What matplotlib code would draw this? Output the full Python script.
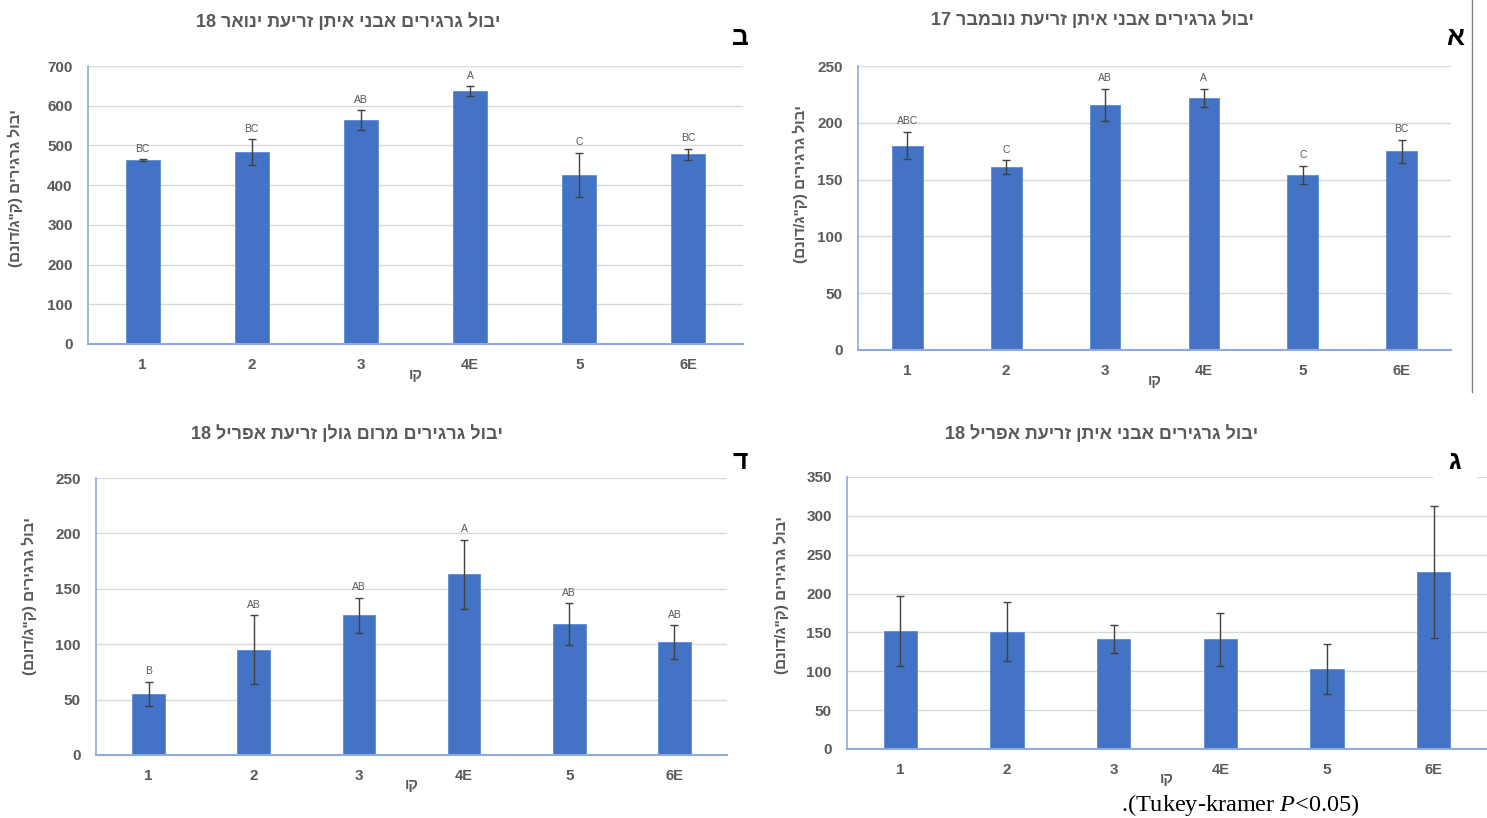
import re
import matplotlib
matplotlib.use("Agg")
import matplotlib.pyplot as plt
import matplotlib.transforms as mtransforms

plt.rcParams['font.family'] = ['Liberation Sans Narrow', 'Liberation Sans', 'DejaVu Sans']
plt.rcParams['mathtext.fontset'] = 'custom'
plt.rcParams['mathtext.rm'] = 'Liberation Serif'
plt.rcParams['mathtext.it'] = 'Liberation Serif:italic'

# ---------------- data ----------------
lines = ['1', '2', '3', '4E', '5', '6E']

# panel ב : Avnei Eitan, January 18 sowing
jan_vals = [463, 483, 564, 637, 426, 478]
jan_err = [2, 32, 25, 12, 55, 14]
jan_letters = ['BC', 'BC', 'AB', 'A', 'C', 'BC']

# panel א : Avnei Eitan, November 17 sowing
nov_vals = [180, 161, 216, 222, 154, 175]
nov_err = [12, 6, 14, 8, 8, 10]
nov_letters = ['ABC', 'C', 'AB', 'A', 'C', 'BC']

# panel ד : Merom Golan, April 18 sowing
golan_vals = [55, 95, 126, 163, 118, 102]
golan_err = [11, 31, 16, 31, 19, 15]
golan_letters = ['B', 'AB', 'AB', 'A', 'AB', 'AB']

# panel ג : Avnei Eitan, April 18 sowing
apr_vals = [152, 151, 141, 141, 103, 228]
apr_err = [45, 38, 18, 34, 32, 85]

titles = {
    'b': 'יבול גרגירים אבני איתן זריעת ינואר 18',
    'a': 'יבול גרגירים אבני איתן זריעת נובמבר 17',
    'd': 'יבול גרגירים מרום גולן זריעת אפריל 18',
    'g': 'יבול גרגירים אבני איתן זריעת אפריל 18',
}
ylabel_text = 'יבול גרגירים (ק"ג/דונם)'
xlabel_text = 'קו'
footnote = '.(Tukey-kramer $\\mathit{P}$<0.05)'


def vis(s):
    """Visual (left-to-right) order for a right-to-left string."""
    tokens = re.findall(r'[0-9A-Za-z.]+|.', s)
    out = []
    for t in reversed(tokens):
        if t == '(':
            t = ')'
        elif t == ')':
            t = '('
        out.append(t)
    return ''.join(out)


BAR = '#4472C4'
GRID = '#D9D9D9'
TXT = '#595959'
AXC = '#8FAADC'

fig = plt.figure(figsize=(14.87, 8.18), dpi=100)
W, H = 1487, 818


def px_axes(l, r, t, b):
    return fig.add_axes([l / W, 1 - b / H, (r - l) / W, (b - t) / H])


def panel(ax, vals, errs, letters, ymax, ystep, ylab_x, ylab_y, xlab_x):
    x = list(range(len(lines)))
    ax.bar(x, vals, width=0.31, color=BAR, edgecolor='#5B8BD6', linewidth=0.6, zorder=2)
    ax.errorbar(x, vals, yerr=errs, fmt='none', ecolor='#404040', elinewidth=1.0,
                capsize=3, capthick=1.0, zorder=3)
    ax.set_xlim(-0.5, len(lines) - 0.5)
    ax.set_ylim(0, ymax)
    ax.set_yticks(list(range(0, ymax + 1, ystep)))
    ax.set_xticks(x)
    ax.set_xticklabels(lines)
    ax.grid(axis='y', color=GRID, linewidth=1.0, zorder=0)
    ax.set_axisbelow(True)
    for s in ['top', 'right']:
        ax.spines[s].set_visible(False)
    ax.spines['left'].set_color(AXC)
    ax.spines['bottom'].set_color(AXC)
    ax.spines['left'].set_linewidth(1.2)
    ax.spines['bottom'].set_linewidth(1.5)
    ax.tick_params(axis='both', length=0, colors=TXT, labelsize=11)
    ax.tick_params(axis='y', pad=11)
    ax.tick_params(axis='x', pad=10)
    for lab in ax.get_xticklabels() + ax.get_yticklabels():
        lab.set_fontweight('bold')
    for lab in ax.get_xticklabels():
        if 'E' in lab.get_text():
            lab.set_fontsize(10.5)
    ax.text(ylab_x, ylab_y, vis(ylabel_text), transform=ax.transAxes, rotation=90,
            ha='center', va='center', fontsize=11, fontweight='bold', color=TXT,
            family=['Liberation Sans', 'DejaVu Sans'])
    trans = mtransforms.blended_transform_factory(ax.transData, ax.transAxes)
    ax.text(xlab_x, -0.11, vis(xlabel_text), transform=trans, ha='center', va='center',
            fontsize=10.5, fontweight='bold', color=TXT, family=['Liberation Sans', 'DejaVu Sans'])
    if letters is not None:
        for xi, v, e, L in zip(x, vals, errs, letters):
            ax.annotate(L, (xi, v + e), xytext=(0, 4), textcoords='offset points',
                        ha='center', va='bottom', fontsize=7.5, color=TXT)


ax_b = px_axes(88, 743, 66, 344)
panel(ax_b, jan_vals, jan_err, jan_letters, 700, 100, -0.111, 0.56, 2.5)
ax_a = px_axes(858, 1451, 66, 350)
panel(ax_a, nov_vals, nov_err, nov_letters, 250, 50, -0.097, 0.585, 2.5)
ax_d = px_axes(96, 727, 478, 755)
panel(ax_d, golan_vals, golan_err, golan_letters, 250, 50, -0.105, 0.574, 2.5)
ax_g = px_axes(847, 1487, 477, 749)
panel(ax_g, apr_vals, apr_err, None, 350, 50, -0.103, 0.566, 2.5)

# titles
for key, (cx, cy) in {'b': (348, 22), 'a': (1092, 20), 'd': (347, 434), 'g': (1102, 434)}.items():
    fig.text(cx / W, 1 - cy / H, vis(titles[key]), ha='center', va='center', fontsize=13,
             fontweight='bold', color=TXT, family=['Liberation Sans', 'DejaVu Sans'])

# panel letters
for letter, (cx, cy) in {'ב': (740, 38), 'א': (1455, 38), 'ד': (740, 462)}.items():
    fig.text(cx / W, 1 - cy / H, letter, ha='center', va='center', fontsize=19,
             fontweight='bold', color='black', family=['Liberation Sans', 'DejaVu Sans'])
fig.text(1455 / W, 1 - 462 / H, 'ג', ha='center', va='center', fontsize=19,
         fontweight='bold', color='black', family=['Liberation Sans', 'DejaVu Sans'], zorder=10,
         bbox=dict(boxstyle='square,pad=0.6', facecolor='white', edgecolor='none'))

# divider line on the right of top row
fig.add_artist(plt.Line2D([1472 / W, 1472 / W], [1 - 392 / H, 1.0], color='#808080', linewidth=1.0))

# footnote
fig.text(1240 / W, 1 - 805 / H, footnote, ha='center', va='center', fontsize=17.5,
         family='Liberation Serif', color='black')

fig.savefig('out.png', dpi=100)
